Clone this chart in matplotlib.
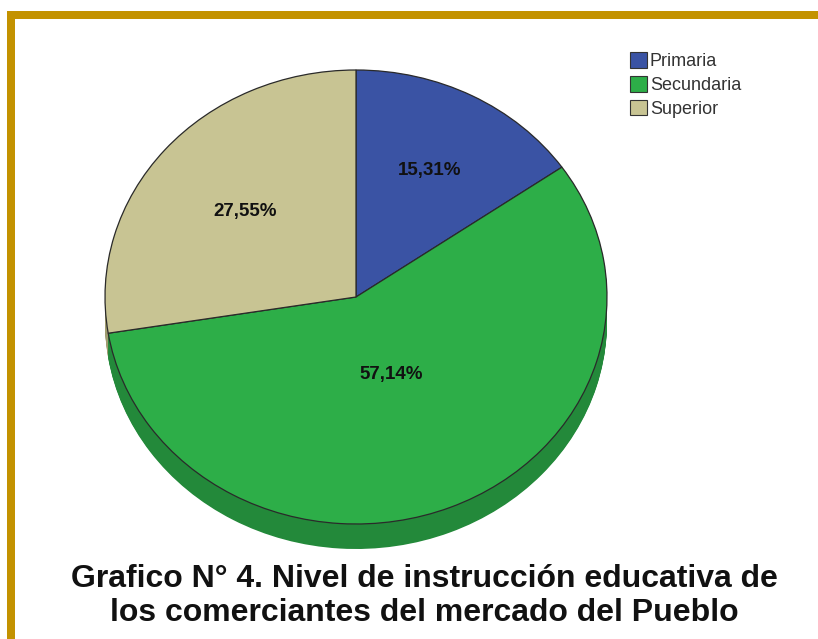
import numpy as np
import matplotlib.pyplot as plt
from matplotlib.patches import Rectangle

labels = ['Primaria', 'Secundaria', 'Superior']
values = [15.31, 57.14, 27.55]
colors = ['#3A53A4', '#2DAE48', '#C8C493']
side_colors = ['#2B3E7C', '#23893A', '#A09C70']
label_dist = [0.63, 0.37, 0.58]

title = 'Grafico N° 4. Nivel de instrucción educativa de\nlos comerciantes del mercado del Pueblo'

W, H = 818, 639
fig = plt.figure(figsize=(W / 100, H / 100), dpi=100)

# frame in pixel coords
bg = fig.add_axes([0, 0, 1, 1])
bg.set_xlim(0, W)
bg.set_ylim(H, 0)
bg.axis('off')
gold = '#C39200'
bg.add_patch(Rectangle((7, 11), W - 7, 8, color=gold, lw=0))
bg.add_patch(Rectangle((7, 11), 8, H - 11, color=gold, lw=0))

# pie axes: top ellipse spans x 105..607, y 70..524, depth 25px
depth = 25 / 227
left, right, top, bot = 105, 607, 70, 524 + 25
ax = fig.add_axes([left / W, (H - bot) / H, (right - left) / W, (bot - top) / H])

nlay = 30
for d in np.linspace(depth, 0.002, nlay):
    ax.pie(values, colors=side_colors, startangle=90, counterclock=False,
           center=(0, -d), radius=1,
           wedgeprops=dict(edgecolor='none', linewidth=0))

wedges, _ = ax.pie(values, colors=colors, startangle=90, counterclock=False,
                   radius=1, wedgeprops=dict(edgecolor='#2a2a2a', linewidth=0.9))

# labels
for w, v, r in zip(wedges, values, label_dist):
    ang = np.deg2rad((w.theta1 + w.theta2) / 2)
    ax.text(r * np.cos(ang), r * np.sin(ang), f'{v:.2f}%'.replace('.', ','),
            ha='center', va='center', fontsize=13.5, fontweight='bold',
            family='Liberation Sans', color='#111111')

ax.set_aspect('auto')
ax.set_xlim(-1, 1)
ax.set_ylim(-1 - depth, 1)
ax.axis('off')

# legend
leg = ax.legend(wedges, labels, loc='upper left', bbox_to_anchor=(630 / W, (H - 52) / H),
                bbox_transform=fig.transFigure, frameon=False,
                prop={'family': 'Liberation Sans', 'size': 13},
                handlelength=0.95, handleheight=0.95, handletextpad=0.15,
                labelspacing=0.33, borderpad=0, borderaxespad=0)
for t in leg.get_texts():
    t.set_color('#333333')
for h in leg.legend_handles:
    h.set_edgecolor('#333333')
    h.set_linewidth(0.8)

fig.text(424 / W, 1 - 596 / H, title, ha='center', va='center',
         fontsize=23, fontweight='bold', family='Liberation Sans',
         linespacing=1.2, color='#111111')

plt.savefig('out.png', dpi=100)
